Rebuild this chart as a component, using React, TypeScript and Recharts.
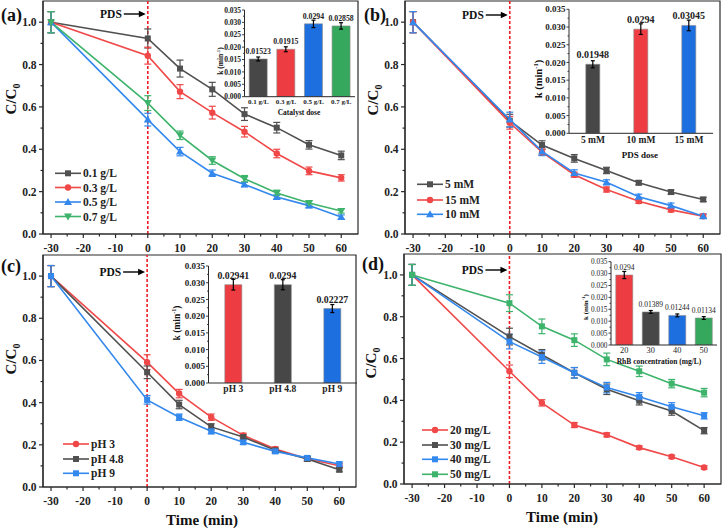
import React from 'react';
import {
  LineChart, Line, XAxis, YAxis, ErrorBar, ReferenceLine, ReferenceArea,
  BarChart, Bar, Cell, LabelList,
} from 'recharts';

// ---- data ----
const TIME = [-30, 0, 10, 20, 30, 40, 50, 60];
const X_TICKS = [-30, -25, -20, -15, -10, -5, 0, 5, 10, 15, 20, 25, 30, 35, 40, 45, 50, 55, 60];
const Y_TICKS = [0, 0.1, 0.2, 0.3, 0.4, 0.5, 0.6, 0.7, 0.8, 0.9, 1.0];
const K_TICKS = [0, 0.0025, 0.005, 0.0075, 0.01, 0.0125, 0.015, 0.0175, 0.02, 0.0225, 0.025, 0.0275, 0.03, 0.0325, 0.035];

// (a) catalyst dose
const A_NAMES = ['0.1 g/L', '0.3 g/L', '0.5 g/L', '0.7 g/L'];
const A_01 = [1.0, 0.923, 0.781, 0.683, 0.566, 0.502, 0.421, 0.371];
const A_03 = [1.0, 0.842, 0.672, 0.573, 0.483, 0.38, 0.298, 0.265];
const A_05 = [1.0, 0.54, 0.389, 0.287, 0.234, 0.175, 0.134, 0.08];
const A_07 = [1.0, 0.618, 0.466, 0.347, 0.261, 0.194, 0.146, 0.109];
const A_01_ERR = [0.05, 0.045, 0.04, 0.033, 0.03, 0.025, 0.02, 0.02];
const A_03_ERR = [0.05, 0.04, 0.033, 0.03, 0.025, 0.02, 0.018, 0.015];
const A_05_ERR = [0.05, 0.03, 0.02, 0.015, 0.01, 0.01, 0.01, 0.01];
const A_07_ERR = [0.05, 0.035, 0.02, 0.018, 0.015, 0.013, 0.01, 0.01];

// (b) PDS dose
const B_NAMES = ['5 mM', '15 mM', '10 mM'];
const B_5 = [1.0, 0.535, 0.42, 0.357, 0.3, 0.242, 0.198, 0.163];
const B_15 = [1.0, 0.525, 0.386, 0.28, 0.21, 0.155, 0.114, 0.084];
const B_10 = [1.0, 0.54, 0.39, 0.288, 0.244, 0.176, 0.134, 0.084];
const B_5_ERR = [0.05, 0.03, 0.02, 0.018, 0.015, 0.01, 0.01, 0.01];
const B_15_ERR = [0.05, 0.03, 0.015, 0.012, 0.012, 0.01, 0.01, 0.01];
const B_10_ERR = [0.05, 0.035, 0.02, 0.015, 0.012, 0.012, 0.012, 0.01];

// (c) pH
const C_NAMES = ['pH 3', 'pH 4.8', 'pH 9'];
const C_3 = [1.0, 0.592, 0.443, 0.331, 0.245, 0.18, 0.134, 0.101];
const C_48 = [1.0, 0.544, 0.391, 0.285, 0.237, 0.174, 0.133, 0.082];
const C_9 = [1.0, 0.413, 0.331, 0.264, 0.212, 0.169, 0.138, 0.109];
const C_3_ERR = [0.05, 0.035, 0.02, 0.015, 0.01, 0.01, 0.01, 0.01];
const C_48_ERR = [0.05, 0.03, 0.02, 0.015, 0.01, 0.01, 0.01, 0.01];
const C_9_ERR = [0.05, 0.02, 0.015, 0.012, 0.01, 0.01, 0.01, 0.01];

// (d) RhB concentration
const D_NAMES = ['20 mg/L', '30 mg/L', '40 mg/L', '50 mg/L'];
const D_20 = [1.0, 0.539, 0.388, 0.282, 0.235, 0.174, 0.13, 0.079];
const D_30 = [1.0, 0.705, 0.618, 0.532, 0.453, 0.398, 0.349, 0.255];
const D_40 = [1.0, 0.681, 0.607, 0.532, 0.461, 0.417, 0.369, 0.326];
const D_50 = [1.0, 0.865, 0.754, 0.688, 0.596, 0.539, 0.48, 0.437];
const D_20_ERR = [0.05, 0.03, 0.015, 0.012, 0.01, 0.008, 0.008, 0.008];
const D_30_ERR = [0.05, 0.04, 0.025, 0.025, 0.025, 0.02, 0.02, 0.015];
const D_40_ERR = [0.05, 0.035, 0.03, 0.025, 0.025, 0.02, 0.02, 0.015];
const D_50_ERR = [0.05, 0.04, 0.035, 0.03, 0.03, 0.025, 0.02, 0.02];

// inset rate constants
const KA_CATS = ['0.1 g/L', '0.3 g/L', '0.5 g/L', '0.7 g/L'];
const KA_VALS = [0.01523, 0.01915, 0.0294, 0.02858];
const KA_ERR = [0.0008, 0.001, 0.0015, 0.0013];
const KB_CATS = ['5 mM', '10 mM', '15 mM'];
const KB_VALS = [0.01948, 0.0294, 0.03045];
const KB_ERR = [0.001, 0.0015, 0.0015];
const KC_CATS = ['pH 3', 'pH 4.8', 'pH 9'];
const KC_VALS = [0.02941, 0.0294, 0.02227];
const KC_ERR = [0.0016, 0.0015, 0.0012];
const KD_CATS = ['20', '30', '40', '50'];
const KD_VALS = [0.0294, 0.01389, 0.01244, 0.01134];
const KD_ERR = [0.0015, 0.0006, 0.0006, 0.0006];

// ---- styles ----
const FONT = "'Liberation Serif', serif";
const AXIS = '#2a2a2a';
const GRAY = '#505050';
const RED = '#f04848';
const BLUE = '#3388ee';
const GREEN = '#3db36b';
const BGRAY = '#474747';
const BRED = '#ee3d42';
const BBLUE = '#1d6fe0';
const BGREEN = '#36a85e';
const X_MIN = -32.5;
const X_MAX = 65.2;

type Shape = 'square' | 'circle' | 'up' | 'down';
type Series = { name: string; values: number[]; errors: number[]; color: string; shape: Shape };

const buildRows = (series: Series[]) =>
  TIME.map((t, i) => {
    const row: any = { t };
    series.forEach((s, j) => {
      row['s' + j] = s.values[i];
      row['e' + j] = s.errors[i];
    });
    return row;
  });

const Marker = ({ cx, cy, color, shape }: any) => {
  if (cx == null || cy == null) return null;
  if (shape === 'circle') return <circle cx={cx} cy={cy} r={3.2} fill={color} />;
  if (shape === 'up')
    return <polygon points={`${cx},${cy - 4} ${cx - 4},${cy + 3} ${cx + 4},${cy + 3}`} fill={color} />;
  if (shape === 'down')
    return <polygon points={`${cx},${cy + 4} ${cx - 4},${cy - 3} ${cx + 4},${cy - 3}`} fill={color} />;
  return <rect x={cx - 3} y={cy - 3} width={6} height={6} fill={color} />;
};

const XTick = ({ x, y, payload }: any) => {
  const v = payload.value;
  const major = v % 10 === 0;
  return (
    <g>
      <line x1={x} x2={x} y1={y} y2={y + (major ? 4 : 2.5)} stroke={AXIS} strokeWidth={1.2} />
      {major && (
        <text x={x} y={y + 18} textAnchor="middle" fontFamily={FONT} fontWeight="bold" fontSize={11.5} fill="#222">
          {v}
        </text>
      )}
    </g>
  );
};

const YTick = ({ x, y, payload }: any) => {
  const v = payload.value;
  const major = Math.round(v * 10) % 2 === 0;
  return (
    <g>
      <line x1={x} x2={x - (major ? 4 : 2.5)} y1={y} y2={y} stroke={AXIS} strokeWidth={1.2} />
      {major && (
        <text x={x - 6.5} y={y + 4} textAnchor="end" fontFamily={FONT} fontWeight="bold" fontSize={11.5} fill="#222">
          {v.toFixed(1)}
        </text>
      )}
    </g>
  );
};

const pdsLabel = (dy: number) => (props: any) => {
  const vb = props.viewBox || {};
  const x = vb.x;
  const y = vb.y + dy;
  return (
    <g>
      <text x={x - 26} y={y + 4} textAnchor="end" fontFamily={FONT} fontWeight="bold" fontSize={11.5} fill="#111">PDS</text>
      <line x1={x - 24} x2={x - 8} y1={y} y2={y} stroke="#000" strokeWidth={1.4} />
      <polygon points={`${x - 2},${y} ${x - 9},${y - 3.2} ${x - 9},${y + 3.2}`} fill="#000" />
    </g>
  );
};

type PanelProps = {
  left: number; top: number; width: number; height: number;
  margin: { top: number; right: number; left: number; bottom: number };
  yWidth: number; xHeight: number; pdsDy: number; series: Series[];
};

const KineticsPanel = ({ left, top, width, height, margin, yWidth, xHeight, pdsDy, series }: PanelProps) => {
  const rows = buildRows(series);
  return (
    <div style={{ position: 'absolute', left, top, width, height }}>
      <LineChart width={width} height={height} data={rows} margin={margin}>
        <XAxis
          dataKey="t" type="number" domain={[X_MIN, X_MAX]} allowDataOverflow ticks={X_TICKS} interval={0}
          tick={<XTick />} tickLine={false} tickSize={0} tickMargin={0} height={xHeight}
          axisLine={{ stroke: AXIS, strokeWidth: 1.2 }}
        />
        <YAxis
          type="number" domain={[0, 1.1]} allowDataOverflow ticks={Y_TICKS} interval={0}
          tick={<YTick />} tickLine={false} tickSize={0} tickMargin={0} width={yWidth}
          axisLine={{ stroke: AXIS, strokeWidth: 1.2 }}
        />
        <ReferenceArea x1={X_MIN} x2={X_MAX} y1={0} y2={1.1} fill="none" stroke={AXIS} strokeWidth={1.2} />
        <ReferenceLine x={0} stroke="#ee1c24" strokeWidth={1.6} strokeDasharray="3 2" label={pdsLabel(pdsDy)} />
        {series.map((s, j) => (
          <Line
            key={s.name} type="linear" dataKey={'s' + j} stroke={s.color} strokeWidth={1.6}
            isAnimationActive={false}
            dot={(p: any) => <Marker key={p.index} cx={p.cx} cy={p.cy} color={s.color} shape={s.shape} />}
          >
            <ErrorBar dataKey={'e' + j} direction="y" width={3.5} stroke={s.color} strokeWidth={1.2} />
          </Line>
        ))}
      </LineChart>
    </div>
  );
};

const KTick = ({ x, y, payload, fs, bold }: any) => {
  const v = payload.value;
  const major = Math.round(v * 1000) % 5 === 0;
  return (
    <g>
      <line x1={x} x2={x - (major ? 2.5 : 1.5)} y1={y} y2={y} stroke={AXIS} strokeWidth={0.9} />
      {major && (
        <text x={x - 3.5} y={y + fs * 0.35} textAnchor="end" fontFamily={FONT} fontWeight={bold ? 'bold' : 'normal'} fontSize={fs} fill="#222">
          {v.toFixed(3)}
        </text>
      )}
    </g>
  );
};

const CatTick = ({ x, y, payload, fs, bold, dy }: any) => (
  <text x={x} y={y + dy} textAnchor="middle" fontFamily={FONT} fontWeight={bold ? 'bold' : 'normal'} fontSize={fs} fill="#222">
    {payload.value}
  </text>
);

type InsetProps = {
  left: number; top: number; width: number; height: number;
  margin: { top: number; right: number; left: number; bottom: number };
  yWidth: number; xHeight: number; gap: string;
  cats: string[]; vals: number[]; errs: number[]; colors: string[];
  tickFs: number; catFs: number; valFs: number; bold: boolean; catDy: number; labelOffset: number;
};

const RateInset = (p: InsetProps) => {
  const rows = p.cats.map((c, i) => ({ cat: c, k: p.vals[i], err: p.errs[i], label: String(p.vals[i]) }));
  return (
    <div style={{ position: 'absolute', left: p.left, top: p.top, width: p.width, height: p.height }}>
      <BarChart width={p.width} height={p.height} data={rows} margin={p.margin} barCategoryGap={p.gap}>
        <XAxis
          dataKey="cat" interval={0} tickLine={false} tickSize={0} tickMargin={0} height={p.xHeight}
          tick={<CatTick fs={p.catFs} bold={p.bold} dy={p.catDy} />} axisLine={{ stroke: AXIS, strokeWidth: 1 }}
        />
        <YAxis
          type="number" domain={[0, 0.035]} allowDataOverflow ticks={K_TICKS} interval={0} width={p.yWidth}
          tick={<KTick fs={p.tickFs} bold={p.bold} />} tickLine={false} tickSize={0} tickMargin={0}
          axisLine={{ stroke: AXIS, strokeWidth: 1 }}
        />
        <Bar dataKey="k" isAnimationActive={false} stroke="#8a8a8a" strokeWidth={0.6}>
          {rows.map((r, i) => <Cell key={r.cat} fill={p.colors[i]} />)}
          <ErrorBar dataKey="err" direction="y" width={2} stroke="#000" strokeWidth={1.2} />
          <LabelList
            dataKey="label" position="top" offset={p.labelOffset}
            style={{ fontFamily: FONT, fontWeight: p.bold ? 'bold' : 'normal', fontSize: p.valFs, fill: '#222' }}
          />
        </Bar>
      </BarChart>
    </div>
  );
};

const SERIES_A: Series[] = [
  { name: A_NAMES[0], values: A_01, errors: A_01_ERR, color: GRAY, shape: 'square' },
  { name: A_NAMES[1], values: A_03, errors: A_03_ERR, color: RED, shape: 'circle' },
  { name: A_NAMES[2], values: A_05, errors: A_05_ERR, color: BLUE, shape: 'up' },
  { name: A_NAMES[3], values: A_07, errors: A_07_ERR, color: GREEN, shape: 'down' },
];
const SERIES_B: Series[] = [
  { name: B_NAMES[0], values: B_5, errors: B_5_ERR, color: GRAY, shape: 'square' },
  { name: B_NAMES[1], values: B_15, errors: B_15_ERR, color: RED, shape: 'circle' },
  { name: B_NAMES[2], values: B_10, errors: B_10_ERR, color: BLUE, shape: 'up' },
];
const SERIES_C: Series[] = [
  { name: C_NAMES[0], values: C_3, errors: C_3_ERR, color: RED, shape: 'circle' },
  { name: C_NAMES[1], values: C_48, errors: C_48_ERR, color: GRAY, shape: 'square' },
  { name: C_NAMES[2], values: C_9, errors: C_9_ERR, color: BLUE, shape: 'square' },
];
const SERIES_D: Series[] = [
  { name: D_NAMES[0], values: D_20, errors: D_20_ERR, color: RED, shape: 'circle' },
  { name: D_NAMES[1], values: D_30, errors: D_30_ERR, color: GRAY, shape: 'square' },
  { name: D_NAMES[2], values: D_40, errors: D_40_ERR, color: BLUE, shape: 'square' },
  { name: D_NAMES[3], values: D_50, errors: D_50_ERR, color: GREEN, shape: 'square' },
];

const LegendBlock = ({ x, ys, series }: { x: number; ys: number[]; series: Series[] }) => (
  <g>
    {series.map((s, i) => (
      <g key={s.name}>
        <line x1={x} x2={x + 26} y1={ys[i]} y2={ys[i]} stroke={s.color} strokeWidth={1.6} />
        <Marker cx={x + 13} cy={ys[i]} color={s.color} shape={s.shape} />
        <text x={x + 28} y={ys[i] + 4} fontFamily={FONT} fontWeight="bold" fontSize={11.5} fill="#222">{s.name}</text>
      </g>
    ))}
  </g>
);

const CTitle = ({ x, y }: { x: number; y: number }) => (
  <text transform={`translate(${x},${y}) rotate(-90)`} textAnchor="middle" fontFamily={FONT} fontWeight="bold" fontSize={15} fill="#111">
    C/C<tspan fontSize={10} dy={4}>0</tspan>
  </text>
);

const KTitle = ({ x, y, fs, bold }: { x: number; y: number; fs: number; bold: boolean }) => (
  <text transform={`translate(${x},${y}) rotate(-90)`} textAnchor="middle" fontFamily={FONT} fontWeight={bold ? 'bold' : 'normal'} fontSize={fs} fill="#111">
    k (min<tspan fontSize={fs * 0.65} dy={-fs * 0.4}>-1</tspan><tspan dy={fs * 0.4}>)</tspan>
  </text>
);

const TXT = { fontFamily: FONT, fontWeight: 'bold' as const, fill: '#111' };

const App = () => (
  <div style={{ position: 'fixed', left: 0, top: 0, width: 724, height: 530, background: '#fff', overflow: 'hidden' }}>
    <KineticsPanel left={0} top={0} width={362} height={262} margin={{ top: 1, right: 4, left: 0, bottom: 0 }}
      yWidth={43} xHeight={28} pdsDy={13} series={SERIES_A} />
    <KineticsPanel left={362} top={0} width={362} height={262} margin={{ top: 1, right: 4, left: 0, bottom: 0 }}
      yWidth={43} xHeight={28} pdsDy={14} series={SERIES_B} />
    <KineticsPanel left={0} top={250} width={362} height={280} margin={{ top: 5, right: 6, left: 0, bottom: 0 }}
      yWidth={43} xHeight={43} pdsDy={17} series={SERIES_C} />
    <KineticsPanel left={362} top={250} width={362} height={280} margin={{ top: 4, right: 3, left: 0, bottom: 0 }}
      yWidth={42} xHeight={46} pdsDy={16} series={SERIES_D} />

    <RateInset left={210} top={0} width={150} height={112} margin={{ top: 10, right: 5, left: 0, bottom: 0 }}
      yWidth={34.5} xHeight={15.3} gap="17%" cats={KA_CATS} vals={KA_VALS} errs={KA_ERR}
      colors={[BGRAY, BRED, BBLUE, BGREEN]} tickFs={7.5} catFs={7} valFs={7.8} bold catDy={7} labelOffset={5} />
    <RateInset left={520} top={0} width={200} height={150} margin={{ top: 9.3, right: 7, left: 0, bottom: 0 }}
      yWidth={49} xHeight={16.7} gap="35%" cats={KB_CATS} vals={KB_VALS} errs={KB_ERR}
      colors={[BGRAY, BRED, BBLUE]} tickFs={9} catFs={9.5} valFs={10} bold catDy={10} labelOffset={6} />
    <RateInset left={160} top={256} width={200} height={140} margin={{ top: 10, right: 3, left: 0, bottom: 0 }}
      yWidth={48.5} xHeight={13} gap="33%" cats={KC_CATS} vals={KC_VALS} errs={KC_ERR}
      colors={[BRED, BGRAY, BBLUE]} tickFs={9} catFs={9.5} valFs={9.8} bold catDy={9} labelOffset={6} />
    <RateInset left={575} top={255} width={146} height={103} margin={{ top: 6.7, right: 4, left: 0, bottom: 0 }}
      yWidth={36} xHeight={13} gap="18%" cats={KD_CATS} vals={KD_VALS} errs={KD_ERR}
      colors={[BRED, BGRAY, BBLUE, BGREEN]} tickFs={7.3} catFs={8.3} valFs={7.5} bold={false} catDy={8} labelOffset={5} />

    <svg width={724} height={530} style={{ position: 'absolute', left: 0, top: 0, pointerEvents: 'none' }}>
      <text x={1} y={21} fontSize={18} {...TXT}>(a)</text>
      <text x={364} y={21} fontSize={18} {...TXT}>(b)</text>
      <text x={1} y={272} fontSize={18} {...TXT}>(c)</text>
      <text x={362} y={270} fontSize={18} {...TXT}>(d)</text>

      <CTitle x={16} y={99} />
      <CTitle x={378} y={100} />
      <CTitle x={16} y={359} />
      <CTitle x={376} y={363} />

      <text x={202} y={525} textAnchor="middle" fontSize={15} {...TXT}>Time (min)</text>
      <text x={562} y={522} textAnchor="middle" fontSize={15} {...TXT}>Time (min)</text>

      <LegendBlock x={55} ys={[173.3, 187.5, 202, 216.5]} series={SERIES_A} />
      <LegendBlock x={417} ys={[184.3, 200, 214.3]} series={SERIES_B} />
      <LegendBlock x={63} ys={[444, 459, 473.3]} series={SERIES_C} />
      <LegendBlock x={422} ys={[430, 445, 459.3, 474.3]} series={SERIES_D} />

      <text x={299} y={115} textAnchor="middle" fontSize={7.5} {...TXT}>Catalyst dose</text>
      <text x={640} y={158} textAnchor="middle" fontSize={9} {...TXT}>PDS dose</text>
      <text x={659} y={363.5} textAnchor="middle" fontSize={7.5} {...TXT}>RhB concentration (mg/L)</text>

      <KTitle x={223} y={61} fs={7.5} bold />
      <KTitle x={542} y={79} fs={10.5} bold />
      <KTitle x={180} y={323} fs={9.5} bold />
      <KTitle x={588} y={307} fs={7} bold />
    </svg>
  </div>
);

export default App;
